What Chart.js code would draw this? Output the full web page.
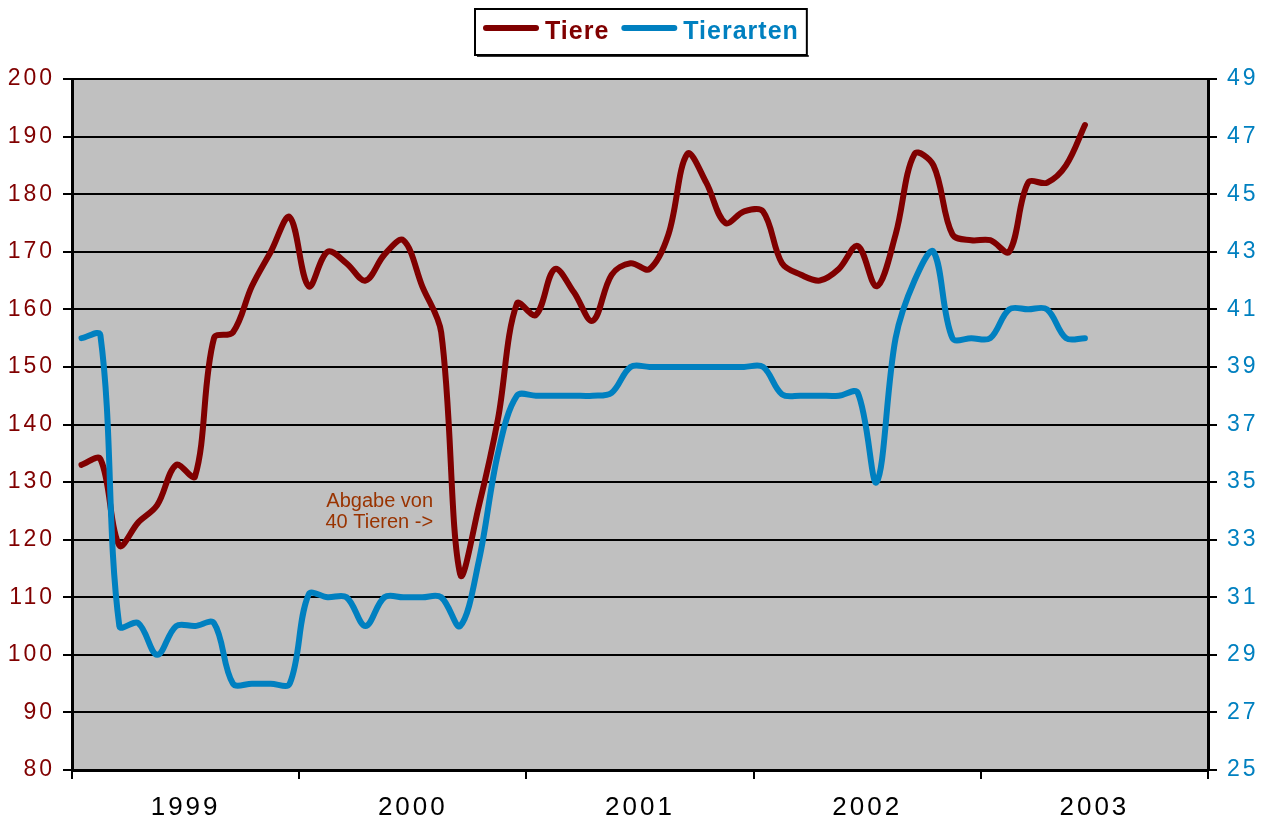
<!DOCTYPE html>
<html lang="de">
<head>
<meta charset="UTF-8">
<title>Tiere und Tierarten</title>
<script src="https://cdn.jsdelivr.net/npm/chart.js"></script>
<style>
  body { margin: 0; background: #fff; }
  canvas { display: block; }
</style>
</head>
<body>
<canvas id="chart" width="1269" height="820"></canvas>
<script>
// Jahre auf der x-Achse
const years = ['1999', '2000', '2001', '2002', '2003'];

// Monate (Kategorien), ab Januar 1999
const months = [];
for (const y of years) for (let m = 1; m <= 12; m++) months.push(y + '-' + String(m).padStart(2, '0'));

// Anzahl Tiere pro Monat (linke Achse)
const tiere = [133, 134, 119, 123, 126, 133, 131, 155, 156, 164, 170, 176,
               164, 170, 168, 165, 169.5, 172, 164, 156, 114, 126, 141, 161,
               159, 167, 163, 158, 166, 168, 167, 173, 187, 182, 175, 177,
               177, 168, 166, 165, 167, 171, 164, 173, 187, 185, 173, 172,
               172, 170, 182, 182, 185, 192];

// Anzahl Tierarten pro Monat (rechte Achse)
const tierarten = [40, 40.1, 30, 30.1, 29, 30, 30, 30.1, 28, 28, 28, 28,
                   31.1, 31, 31, 30, 31, 31, 31, 31, 30, 32.3, 36, 38,
                   38, 38, 38, 38, 38.1, 39, 39, 39, 39, 39, 39, 39,
                   39, 38.05, 38, 38, 38, 38.1, 35, 40, 42, 43, 40, 40,
                   40, 41, 41, 41, 40, 40];

const RED = '#800000';
const BLUE = '#0080C0';
const FONT = 'Arial, "Liberation Sans", sans-serif';

// Punkt jeweils in der Mitte des Monats
const toPoints = arr => arr.map((v, i) => ({ x: i + 0.5, y: v }));

const legendItems = [
    { text: 'Tiere', color: RED },
    { text: 'Tierarten', color: BLUE }
];

const extras = {
    id: 'extras',
    beforeDraw(chart) {
        const { ctx, chartArea: a } = chart;
        ctx.save();
        ctx.fillStyle = '#C0C0C0';
        ctx.fillRect(a.left, a.top, a.right - a.left, a.bottom - a.top);
        ctx.restore();
        // gesperrte Achsenbeschriftung wie im Original
        ctx.letterSpacing = '3px';
    },
    afterDraw(chart) {
        const ctx = chart.ctx;
        ctx.save();

        // Legende
        ctx.letterSpacing = '1px';
        ctx.font = 'bold 25px ' + FONT;
        const lineLen = 56, gapText = 6, gapItem = 12, padX = 8;
        let w = padX * 2;
        legendItems.forEach((it, i) => {
            w += lineLen + gapText + ctx.measureText(it.text).width + (i ? gapItem : 0);
        });
        const left = Math.round(640.5 - w / 2), top = 9, h = 46;
        ctx.fillStyle = '#fff';
        ctx.fillRect(left, top, w, h);
        ctx.fillStyle = '#333';
        ctx.fillRect(left + 2, top + h, w, 2);
        ctx.strokeStyle = '#000';
        ctx.lineWidth = 2;
        ctx.strokeRect(left, top, w, h);
        let x = left + padX;
        ctx.textBaseline = 'alphabetic';
        ctx.lineCap = 'round';
        legendItems.forEach((it, i) => {
            if (i) x += gapItem;
            ctx.strokeStyle = it.color;
            ctx.lineWidth = 6;
            ctx.beginPath();
            ctx.moveTo(x + 3, top + 19);
            ctx.lineTo(x + lineLen - 3, top + 19);
            ctx.stroke();
            x += lineLen + gapText;
            ctx.fillStyle = it.color;
            ctx.fillText(it.text, x, top + 30);
            x += ctx.measureText(it.text).width;
        });

        // Anmerkung
        ctx.letterSpacing = '0px';
        const xs = chart.scales.x, ys = chart.scales.y;
        ctx.font = '20px ' + FONT;
        ctx.fillStyle = '#993300';
        ctx.textAlign = 'right';
        const tx = xs.getPixelForValue(19.07);
        ctx.fillText('Abgabe von', tx, ys.getPixelForValue(125.6));
        ctx.fillText('40 Tieren ->', tx, ys.getPixelForValue(122.1));
        ctx.restore();
        ctx.letterSpacing = '0px';
    }
};

const config = {
    type: 'line',
    data: {
        labels: months,
        datasets: [
            {
                label: 'Tiere',
                data: toPoints(tiere),
                yAxisID: 'y',
                borderColor: RED,
                borderWidth: 6,
                order: 2
            },
            {
                label: 'Tierarten',
                data: toPoints(tierarten),
                yAxisID: 'y1',
                borderColor: BLUE,
                borderWidth: 6,
                order: 1
            }
        ]
    },
    options: {
        responsive: false,
        animation: false,
        events: [],
        layout: { padding: { top: 79, left: 0, right: 0, bottom: 0 } },
        elements: {
            point: { radius: 0 },
            line: { tension: 0.35, borderCapStyle: 'round', borderJoinStyle: 'round', fill: false }
        },
        plugins: {
            legend: { display: false },
            tooltip: { enabled: false }
        },
        scales: {
            x: {
                type: 'linear',
                min: 0,
                max: 60,
                afterFit: s => { s.height = 50; },
                ticks: {
                    stepSize: 6,
                    autoSkip: false,
                    maxRotation: 0,
                    color: '#000',
                    font: { family: FONT, size: 26 },
                    padding: 13,
                    callback: v => (v % 12 === 6 ? years[(v - 6) / 12] : '')
                },
                grid: {
                    drawOnChartArea: false,
                    tickLength: 9,
                    lineWidth: 2,
                    color: c => (c.tick && c.tick.value % 12 === 0 ? '#000' : 'rgba(0,0,0,0)')
                },
                border: { color: '#000', width: 3 }
            },
            y: {
                position: 'left',
                min: 80,
                max: 200,
                afterFit: s => { s.width = 72; },
                ticks: { stepSize: 10, maxTicksLimit: 20, color: RED, font: { family: FONT, size: 23 }, padding: 8 },
                grid: { color: '#000', lineWidth: 2, tickLength: 9 },
                border: { color: '#000', width: 3 }
            },
            y1: {
                position: 'right',
                min: 25,
                max: 49,
                afterFit: s => { s.width = 61; },
                ticks: { stepSize: 2, maxTicksLimit: 20, color: BLUE, font: { family: FONT, size: 23 }, padding: 10 },
                grid: { drawOnChartArea: false, color: '#000', lineWidth: 2, tickLength: 9 },
                border: { color: '#000', width: 3 }
            }
        }
    },
    plugins: [extras]
};

new Chart(document.getElementById('chart').getContext('2d'), config);
</script>
</body>
</html>
